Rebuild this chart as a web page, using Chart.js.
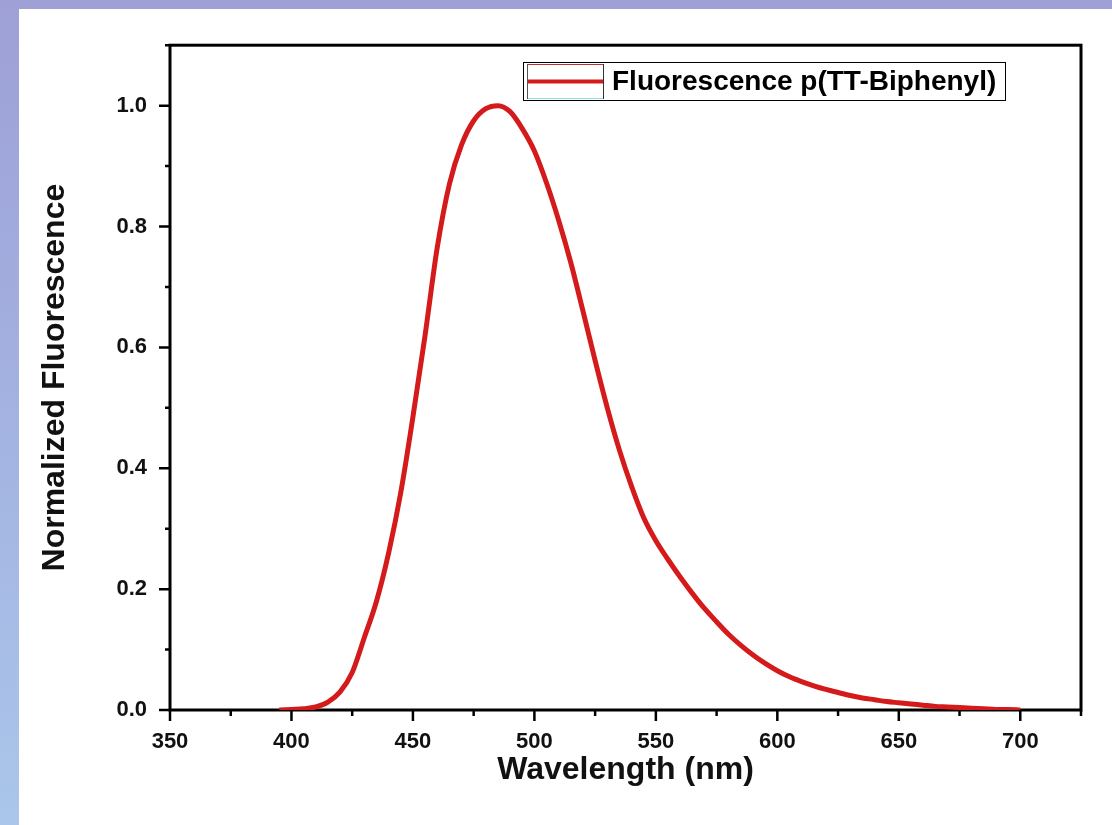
<!DOCTYPE html>
<html><head><meta charset="utf-8">
<script src="https://cdn.jsdelivr.net/npm/chart.js@4.4.1/dist/chart.umd.min.js"></script>
<style>
html,body{margin:0;padding:0;width:1112px;height:825px;overflow:hidden;background:linear-gradient(180deg,#9ea0d6 0%,#a4b4e2 55%,#aac6ea 100%);}
#wrap{position:absolute;left:19px;top:9px;width:1093px;height:816px;background:#fff;}
canvas{display:block;}
</style></head><body>
<div id="wrap"><canvas id="c" width="1093" height="816"></canvas></div>
<script>
const wavelengths = [395,400,405,410,415,420,425,430,435,440,445,450,455,460,465,470,475,480,485,490,495,500,505,510,515,520,525,530,535,540,545,550,555,560,565,570,575,580,585,590,595,600,605,610,615,620,625,630,635,640,645,650,655,660,665,670,675,680,685,690,695,700];
const fluorescence = [0.000,0.001,0.002,0.005,0.013,0.030,0.062,0.120,0.180,0.260,0.360,0.485,0.620,0.765,0.870,0.935,0.975,0.995,1.000,0.990,0.962,0.925,0.872,0.810,0.740,0.660,0.578,0.500,0.430,0.370,0.318,0.280,0.249,0.220,0.193,0.168,0.146,0.125,0.107,0.091,0.077,0.065,0.055,0.047,0.040,0.034,0.029,0.024,0.020,0.017,0.014,0.012,0.010,0.008,0.006,0.005,0.004,0.003,0.002,0.001,0.001,0.000];
const xTickLabels = [350,400,450,500,550,600,650,700];
const xMinorTicks = [375,425,475,525,575,625,675,725];
const yTickLabels = [0.0,0.2,0.4,0.6,0.8,1.0];
const yMinorTicks = [0.1,0.3,0.5,0.7,0.9,1.1];
const xRange = [350,725];
const yRange = [0,1.1];
const seriesLabel = 'Fluorescence p(TT-Biphenyl)';
const xTitle = 'Wavelength (nm)';
const yTitle = 'Normalized Fluorescence';

const FONT = "'Liberation Sans', Arial, sans-serif";
const RED = '#d41a1a';

const framePlugin = {
  id: 'frame',
  beforeDatasetsDraw(chart) {
    const {ctx, chartArea: a, scales: {x, y}} = chart;
    ctx.save();
    ctx.strokeStyle = '#000';
    ctx.lineWidth = 3;
    ctx.strokeRect(a.left, a.top, a.right - a.left, a.bottom - a.top);
    ctx.lineWidth = 2.5;
    ctx.beginPath();
    xTickLabels.forEach(v => { const p = x.getPixelForValue(v); ctx.moveTo(p, a.bottom); ctx.lineTo(p, a.bottom + 11); });
    xMinorTicks.forEach(v => { const p = x.getPixelForValue(v); ctx.moveTo(p, a.bottom); ctx.lineTo(p, a.bottom + 6); });
    yTickLabels.forEach(v => { const p = y.getPixelForValue(v); ctx.moveTo(a.left, p); ctx.lineTo(a.left - 11, p); });
    yMinorTicks.forEach(v => { const p = y.getPixelForValue(v); ctx.moveTo(a.left, p); ctx.lineTo(a.left - 5, p); });
    ctx.stroke();
    ctx.restore();
  },
  afterDraw(chart) {
    const ctx = chart.ctx;
    const ds = chart.data.datasets[0];
    ctx.save();
    ctx.strokeStyle = '#000';
    ctx.lineWidth = 1;
    ctx.strokeRect(504.5, 53.5, 482, 38);
    ctx.strokeStyle = '#555';
    ctx.beginPath(); ctx.moveTo(508.5, 55); ctx.lineTo(508.5, 90); ctx.stroke();
    ctx.strokeStyle = '#c03030';
    ctx.beginPath(); ctx.moveTo(509, 55.5); ctx.lineTo(585, 55.5); ctx.stroke();
    ctx.strokeStyle = '#8fe0e6';
    ctx.beginPath(); ctx.moveTo(509, 89.5); ctx.lineTo(585, 89.5); ctx.stroke();
    ctx.strokeStyle = '#333';
    ctx.beginPath(); ctx.moveTo(584.5, 55); ctx.lineTo(584.5, 90); ctx.stroke();
    ctx.strokeStyle = ds.borderColor;
    ctx.lineWidth = 4;
    ctx.beginPath(); ctx.moveTo(509, 72.5); ctx.lineTo(584, 72.5); ctx.stroke();
    ctx.fillStyle = '#000';
    ctx.font = 'bold 28px ' + FONT;
    ctx.textBaseline = 'middle';
    ctx.textAlign = 'left';
    ctx.fillText(ds.label, 593, 73);
    ctx.restore();
  }
};

new Chart(document.getElementById('c'), {
  type: 'line',
  data: {
    datasets: [{
      label: seriesLabel,
      data: wavelengths.map((w, i) => ({x: w, y: fluorescence[i]})),
      borderColor: RED,
      borderWidth: 5,
      pointRadius: 0,
      cubicInterpolationMode: 'monotone',
      fill: false
    }]
  },
  options: {
    responsive: false,
    animation: false,
    layout: {padding: {top: 33, right: 31, left: 0, bottom: 0}},
    plugins: {legend: {display: false}, tooltip: {enabled: false}},
    scales: {
      x: {
        type: 'linear', min: xRange[0], max: xRange[1],
        afterFit: s => { s.height = 115; },
        afterBuildTicks: s => { s.ticks = xTickLabels.map(v => ({value: v})); },
        grid: {display: false, drawTicks: false},
        border: {display: false},
        ticks: {color: '#111', padding: 19, maxRotation: 0, autoSkip: false,
          font: {family: FONT, size: 22, weight: 'bold'}, callback: v => String(v)},
        title: {display: true, text: xTitle, color: '#111',
          font: {family: FONT, size: 32, weight: 'bold'}, padding: {top: 0, bottom: 36}}
      },
      y: {
        type: 'linear', min: yRange[0], max: yRange[1],
        afterFit: s => { s.width = 151; },
        afterBuildTicks: s => { s.ticks = yTickLabels.map(v => ({value: v})); },
        grid: {display: false, drawTicks: false},
        border: {display: false},
        ticks: {color: '#111', padding: 23, autoSkip: false,
          font: {family: FONT, size: 22, weight: 'bold'}, callback: v => Number(v).toFixed(1)},
        title: {display: true, text: yTitle, color: '#111',
          font: {family: FONT, size: 32, weight: 'bold'}, padding: {top: 17, bottom: 0}}
      }
    }
  },
  plugins: [framePlugin]
});
</script>
</body></html>
